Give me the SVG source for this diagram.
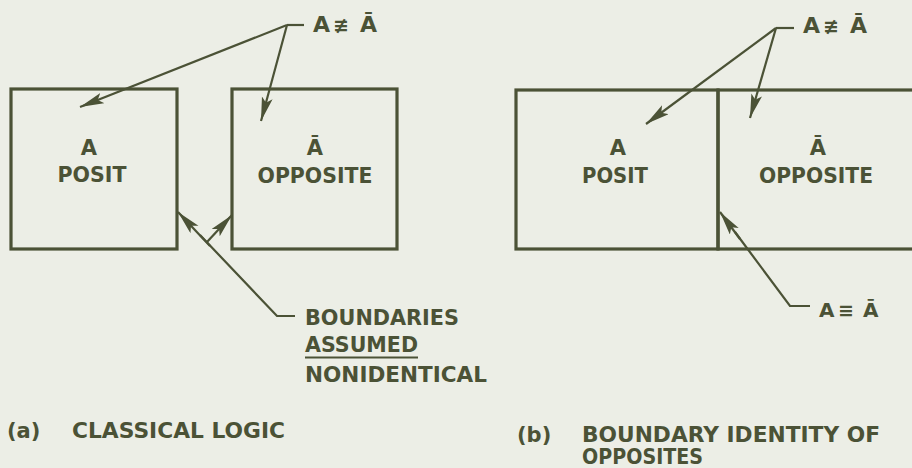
<svg xmlns="http://www.w3.org/2000/svg" width="912" height="468" viewBox="0 0 912 468">
<defs>
<style>
.bg{fill:#eceee6}
.box{fill:none;stroke:#4b5236;stroke-width:3.2}
.con{fill:none;stroke:#4b5236;stroke-width:2.2}
.t{font-family:"DejaVu Sans","Liberation Sans",sans-serif;font-weight:bold;fill:#4b5236}
.lbl{font-size:21px;text-anchor:middle}
.cap{font-size:21px}
.note{font-size:20.5px}
.sym{font-size:19px}
</style>
<marker id="ah" markerUnits="userSpaceOnUse" markerWidth="26" markerHeight="12" refX="24" refY="5.5" orient="auto">
<path d="M0,0 L24,5.5 L0,11 L5,5.5 Z" fill="#4b5236"/>
</marker>
</defs>
<rect class="bg" x="0" y="0" width="912" height="468"/>

<g id="left-posit">
<rect class="box" x="11" y="89" width="166" height="160"/>
<text class="t lbl" x="89" y="155">A</text>
<text class="t lbl" x="92" y="182" textLength="69" lengthAdjust="spacingAndGlyphs">POSIT</text>
</g>
<g id="left-opposite">
<rect class="box" x="232" y="89" width="165" height="160"/>
<text class="t lbl" x="315" y="155">Ā</text>
<text class="t lbl" x="315" y="183" textLength="115" lengthAdjust="spacingAndGlyphs">OPPOSITE</text>
</g>
<g id="right-posit">
<rect class="box" x="516" y="90" width="202" height="159"/>
<text class="t lbl" x="618" y="155">A</text>
<text class="t lbl" x="615" y="183" textLength="66" lengthAdjust="spacingAndGlyphs">POSIT</text>
</g>
<g id="right-opposite">
<rect class="box" x="718" y="90" width="220" height="159"/>
<text class="t lbl" x="818" y="155">Ā</text>
<text class="t lbl" x="816" y="183" textLength="114" lengthAdjust="spacingAndGlyphs">OPPOSITE</text>
</g>

<g id="label-left-neq">
<text class="t" x="313" y="32" font-size="22"><tspan x="313">A</tspan> <tspan class="sym" x="333">≢</tspan> <tspan x="360">Ā</tspan></text>
</g>
<g id="label-boundaries">
<text class="t note" x="305" y="325" textLength="154" lengthAdjust="spacingAndGlyphs">BOUNDARIES</text>
<text class="t note" x="305" y="352" textLength="113" lengthAdjust="spacingAndGlyphs">ASSUMED</text>
<line x1="305" y1="357.5" x2="418" y2="357.5" stroke="#4b5236" stroke-width="2.2"/>
<text class="t note" x="305" y="382" textLength="182" lengthAdjust="spacingAndGlyphs">NONIDENTICAL</text>
</g>
<g id="label-right-neq">
<text class="t" x="803" y="33" font-size="22"><tspan x="803">A</tspan> <tspan class="sym" x="823">≢</tspan> <tspan x="850">Ā</tspan></text>
</g>
<g id="label-right-eq">
<text class="t" x="819" y="317" font-size="20"><tspan x="819">A</tspan> <tspan class="sym" x="838">≡</tspan> <tspan x="863">Ā</tspan></text>
</g>
<g id="caption-a">
<text class="t cap" x="7" y="438">(a)</text>
<text class="t cap" x="72" y="438" textLength="213" lengthAdjust="spacingAndGlyphs">CLASSICAL LOGIC</text>
</g>
<g id="caption-b">
<text class="t cap" x="517" y="442">(b)</text>
<text class="t cap" x="582" y="442" textLength="298" lengthAdjust="spacingAndGlyphs">BOUNDARY IDENTITY OF</text>
<text class="t cap" x="582" y="464" textLength="121" lengthAdjust="spacingAndGlyphs">OPPOSITES</text>
</g>

<g id="connectors">
<line class="con" x1="304" y1="25" x2="287" y2="25"/>
<line class="con" x1="287" y1="25" x2="80" y2="107" marker-end="url(#ah)"/>
<line class="con" x1="287" y1="25" x2="261" y2="121" marker-end="url(#ah)"/>
<polyline class="con" points="295,316 277,316 200,235"/>
<line class="con" x1="210" y1="246" x2="178" y2="212" marker-end="url(#ah)"/>
<line class="con" x1="207" y1="242" x2="232" y2="215" marker-end="url(#ah)"/>
<line class="con" x1="794" y1="28" x2="776" y2="28"/>
<line class="con" x1="776" y1="28" x2="646" y2="124" marker-end="url(#ah)"/>
<line class="con" x1="776" y1="28" x2="750" y2="118" marker-end="url(#ah)"/>
<polyline class="con" points="810,306 790,306 735,232"/>
<line class="con" x1="740" y1="239" x2="720" y2="212" marker-end="url(#ah)"/>
</g>
</svg>
